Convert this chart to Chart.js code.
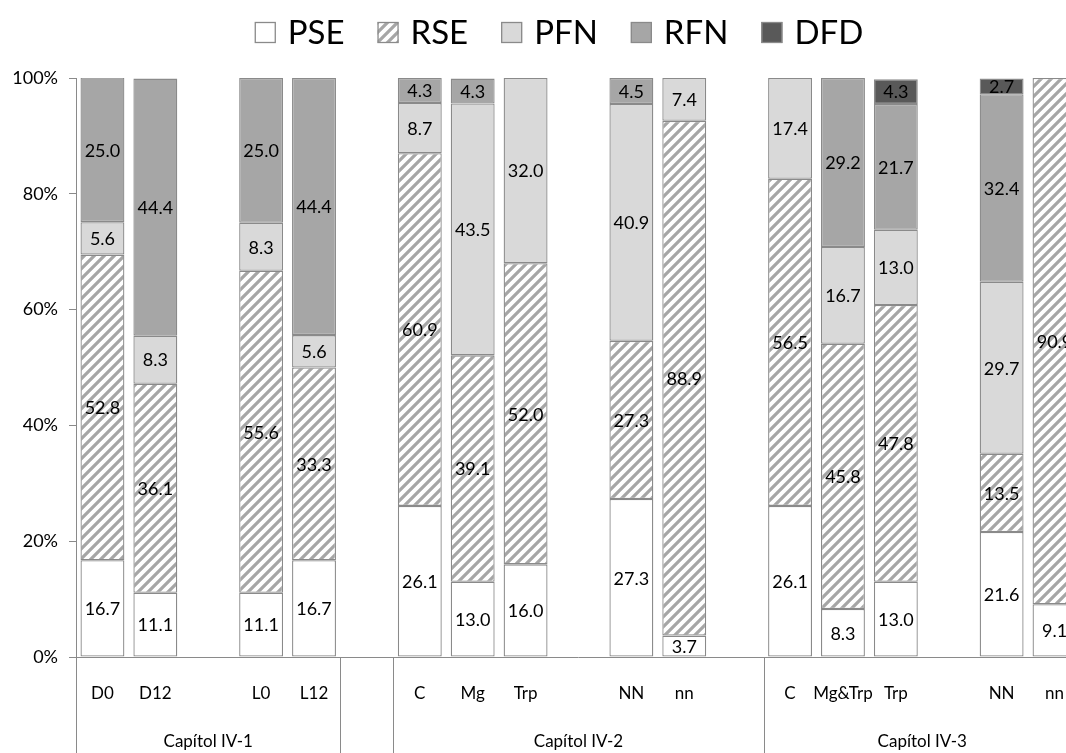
<!DOCTYPE html>
<html>
<head>
<meta charset="utf-8">
<script src="https://cdn.jsdelivr.net/npm/chart.js@4/dist/chart.umd.min.js"></script>
<style>
html,body{margin:0;padding:0;background:#fff;overflow:hidden;width:1066px;height:753px;}
canvas{display:block;}
</style>
</head>
<body>
<canvas id="c" width="1090" height="753"></canvas>
<script>
// Categories along the x axis; empty strings are spacer slots between sets
const categories = ['D0','D12','','L0','L12','','C','Mg','Trp','','NN','nn','','C','Mg&Trp','Trp','','NN','nn'];
// Chapter groups on the second axis row (start / end slot index)
const groupLabels = ['Capítol IV-1','Capítol IV-2','Capítol IV-3'];
const groupStart = [0, 6, 13];
const groupEnd = [5, 13, 19];

const seriesNames = ['PSE','RSE','PFN','RFN','DFD'];
const pse = [16.7, 11.1, null, 11.1, 16.7, null, 26.1, 13.0, 16.0, null, 27.3, 3.7, null, 26.1, 8.3, 13.0, null, 21.6, 9.1];
const rse = [52.8, 36.1, null, 55.6, 33.3, null, 60.9, 39.1, 52.0, null, 27.3, 88.9, null, 56.5, 45.8, 47.8, null, 13.5, 90.9];
const pfn = [5.6, 8.3, null, 8.3, 5.6, null, 8.7, 43.5, 32.0, null, 40.9, 7.4, null, 17.4, 16.7, 13.0, null, 29.7, null];
const rfn = [25.0, 44.4, null, 25.0, 44.4, null, 4.3, 4.3, null, null, 4.5, null, null, null, 29.2, 21.7, null, 32.4, null];
const dfd = [null, null, null, null, null, null, null, null, null, null, null, null, null, null, null, 4.3, null, 2.7, null];

const yMin = 0, yMax = 100, yStep = 20;

const FONT = 'Lato';
const EDGE = '#8a8a8a';

function hatchPattern() {
  const c = document.createElement('canvas');
  c.width = 10; c.height = 10;
  const g = c.getContext('2d');
  g.fillStyle = '#ffffff';
  g.fillRect(0, 0, 10, 10);
  g.strokeStyle = '#a6a6a6';
  g.lineWidth = 3.2;
  g.beginPath();
  for (const k of [0, 10, 20]) { g.moveTo(k - 12, 12); g.lineTo(k + 2, -2); }
  g.stroke();
  return g.createPattern(c, 'repeat');
}

function build() {
  const ctx = document.getElementById('c').getContext('2d');
  const hatch = hatchPattern();
  const fills = ['#ffffff', hatch, '#d9d9d9', '#a6a6a6', '#595959'];
  const series = [pse, rse, pfn, rfn, dfd];

  const datasets = series.map((d, i) => ({
    label: seriesNames[i],
    data: d,
    backgroundColor: fills[i],
    borderColor: EDGE,
    borderWidth: 1.3,
    borderSkipped: false,
    categoryPercentage: 1.0,
    barPercentage: 0.83
  }));

  // Value labels centred in each stacked segment
  const segmentLabels = {
    id: 'segmentLabels',
    afterDatasetsDraw(chart) {
      const g = chart.ctx;
      g.save();
      g.font = '18px ' + FONT;
      g.fillStyle = '#000';
      g.textAlign = 'center';
      g.textBaseline = 'middle';
      chart.data.datasets.forEach((ds, di) => {
        const meta = chart.getDatasetMeta(di);
        meta.data.forEach((el, j) => {
          const v = ds.data[j];
          if (v === null || v === undefined) return;
          g.fillText(v.toFixed(1), el.x, (el.y + el.base) / 2 + 1);
        });
      });
      g.restore();
    }
  };

  // Chapter row beneath the category labels, with divider lines
  const groupAxis = {
    id: 'groupAxis',
    afterDraw(chart) {
      const g = chart.ctx;
      const xs = chart.scales.x;
      const step = xs.getPixelForValue(1) - xs.getPixelForValue(0);
      const edge = i => xs.getPixelForValue(0) - step / 2 + i * step;
      const top = chart.chartArea.bottom;
      g.save();
      g.strokeStyle = EDGE;
      g.lineWidth = 1;
      const marks = new Set();
      groupStart.forEach((s, i) => { marks.add(s); marks.add(groupEnd[i]); });
      marks.forEach(i => {
        const x = Math.round(edge(i)) + 0.5;
        g.beginPath(); g.moveTo(x, top); g.lineTo(x, chart.height); g.stroke();
      });
      g.font = '17px ' + FONT;
      g.fillStyle = '#000';
      g.textAlign = 'center';
      g.textBaseline = 'middle';
      groupLabels.forEach((t, i) => {
        g.fillText(t, (edge(groupStart[i]) + edge(groupEnd[i])) / 2, 742);
      });
      g.restore();
    }
  };

  // Legend row across the top
  const topLegend = {
    id: 'topLegend',
    afterDraw(chart) {
      const g = chart.ctx;
      g.save();
      g.font = '33px ' + FONT;
      const box = 21, gapText = 12, gapItem = 33;
      const widths = seriesNames.map(n => g.measureText(n).width);
      const total = widths.reduce((a, b) => a + b, 0) + seriesNames.length * (box + gapText) + (seriesNames.length - 1) * gapItem;
      let x = 559 - total / 2;
      seriesNames.forEach((n, i) => {
        g.fillStyle = fills[i];
        g.fillRect(x, 22, box, box);
        g.strokeStyle = EDGE;
        g.lineWidth = 1.3;
        g.strokeRect(x + 0.5, 22.5, box - 1, box - 1);
        g.fillStyle = '#000';
        g.textAlign = 'left';
        g.textBaseline = 'alphabetic';
        g.fillText(n, x + box + gapText, 44);
        x += box + gapText + widths[i] + gapItem;
      });
      g.restore();
    }
  };

  new Chart(ctx, {
    type: 'bar',
    data: { labels: categories, datasets },
    plugins: [segmentLabels, groupAxis, topLegend],
    options: {
      responsive: false,
      devicePixelRatio: 1,
      animation: false,
      layout: { padding: { top: 78, left: 0, right: 0, bottom: 0 } },
      plugins: { legend: { display: false }, tooltip: { enabled: false } },
      scales: {
        x: {
          stacked: true,
          grid: { display: false, drawTicks: false },
          border: { display: true, color: EDGE, width: 1 },
          ticks: { font: { family: FONT, size: 17 }, color: '#000', padding: 26, maxRotation: 0, autoSkip: false },
          afterFit(s) { s.height = 96; }
        },
        y: {
          stacked: true,
          min: yMin, max: yMax,
          ticks: { stepSize: yStep, callback: v => v + '%', font: { family: FONT, size: 18 }, color: '#000', padding: 11 },
          grid: { display: true, drawOnChartArea: false, drawTicks: true, tickLength: 7, color: EDGE },
          border: { display: true, color: EDGE, width: 1 },
          afterFit(s) { s.width = 76; }
        }
      }
    }
  });
}

(document.fonts && document.fonts.load ? document.fonts.load('17px ' + FONT) : Promise.resolve()).then(build, build);
</script>
</body>
</html>
